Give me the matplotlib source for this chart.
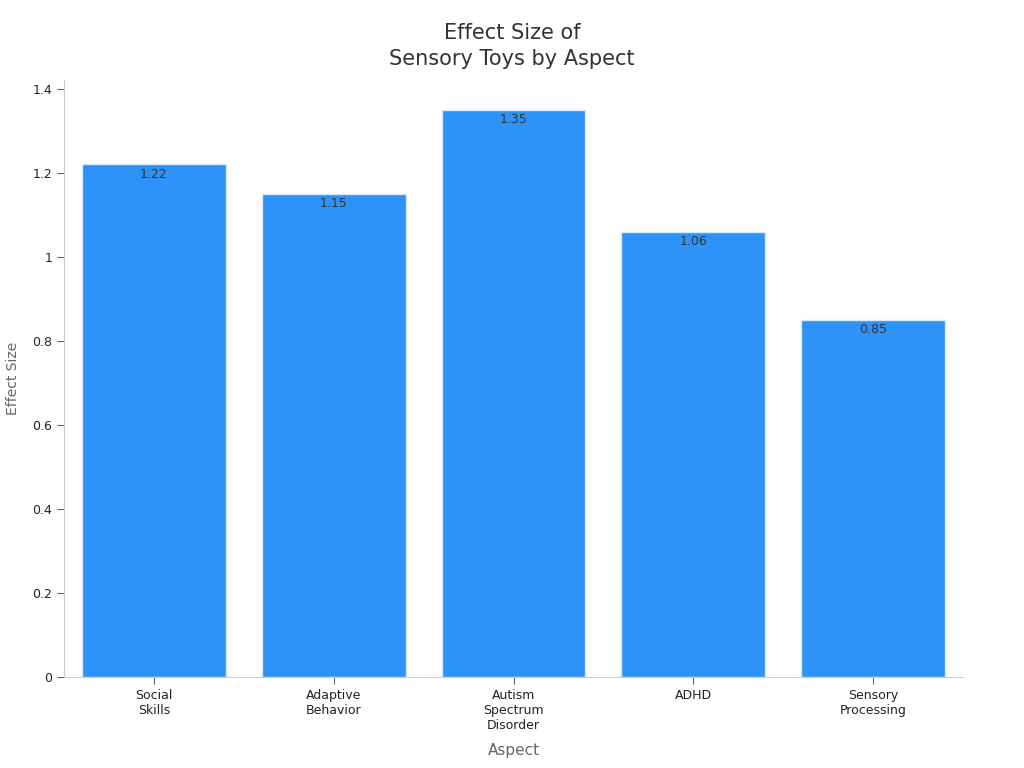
import matplotlib
matplotlib.use("Agg")
import matplotlib.pyplot as plt

categories = ["Social\nSkills", "Adaptive\nBehavior", "Autism\nSpectrum\nDisorder", "ADHD", "Sensory\nProcessing"]
values = [1.22, 1.15, 1.35, 1.06, 0.85]
yticks = [0, 0.2, 0.4, 0.6, 0.8, 1.0, 1.2, 1.4]
ytick_labels = ["0", "0.2", "0.4", "0.6", "0.8", "1", "1.2", "1.4"]

fig = plt.figure(figsize=(10.24, 7.68), dpi=100)
ax = fig.add_axes([0.0625, 0.1185, 0.878, 0.7775])

x = list(range(len(categories)))
bars = ax.bar(x, values, width=0.8, color="#2e93f8", edgecolor="#d8e8f8", linewidth=1)
for xi, v in zip(x, values):
    ax.text(xi, v - 0.008, f"{v:.2f}", ha="center", va="top", fontsize=9, color="#333333")

ax.set_xlim(-0.5, 4.5)
ax.set_ylim(0, 1.421)
ax.set_xticks(x)
ax.set_xticklabels(categories, fontsize=9, color="#222222")
ax.set_yticks(yticks)
ax.set_yticklabels(ytick_labels, fontsize=9, color="#222222")
ax.tick_params(axis="both", colors="#666666", labelcolor="#222222", length=5)
for s in ["top", "right"]:
    ax.spines[s].set_visible(False)
for s in ["left", "bottom"]:
    ax.spines[s].set_color("#cccccc")

ax.set_xlabel("Aspect", fontsize=11, color="#666666", labelpad=8)
ax.set_ylabel("Effect Size", fontsize=10, color="#666666", labelpad=9)
fig.text(0.5, 0.94, "Effect Size of\nSensory Toys by Aspect", ha="center", va="center",
         fontsize=15, color="#333333", linespacing=1.4)

fig.savefig("out.png", dpi=100)
